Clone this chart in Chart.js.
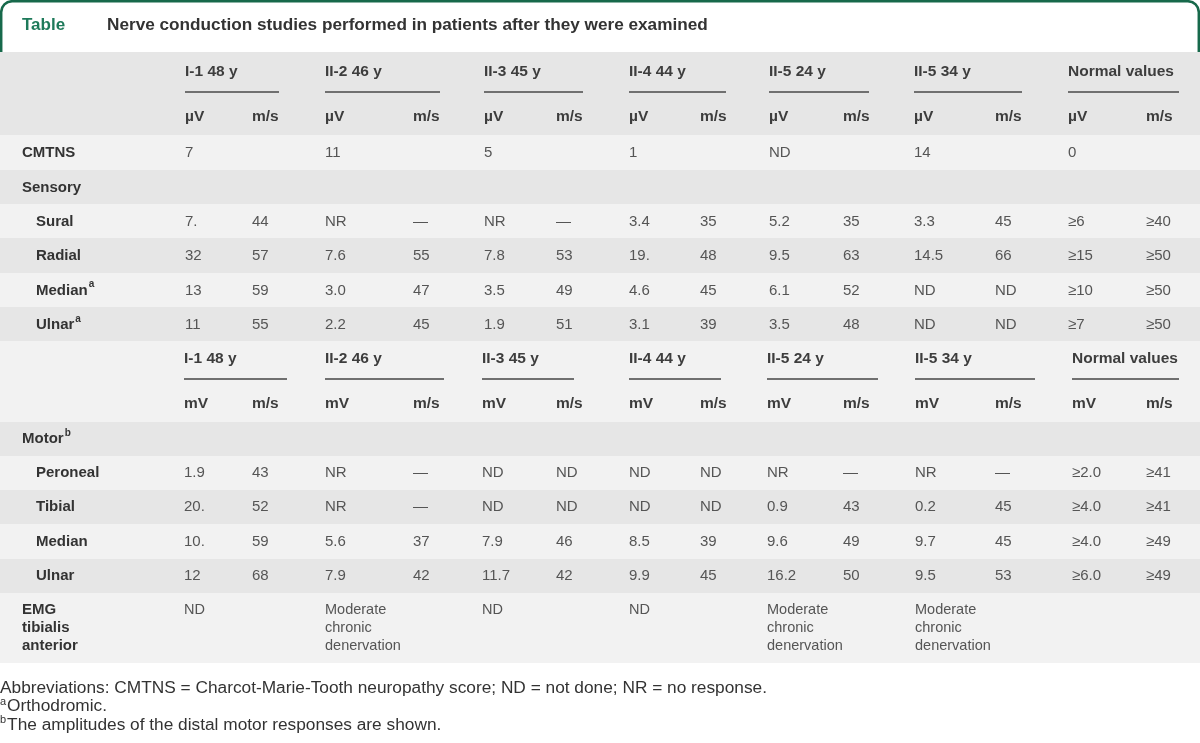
<!DOCTYPE html>
<html>
<head>
<meta charset="utf-8">
<script src="https://cdn.jsdelivr.net/npm/chart.js@4.4.1/dist/chart.umd.min.js"></script>
<style>
  html, body { margin: 0; padding: 0; background: #fff; }
  canvas { display: block; }
</style>
</head>
<body>
<canvas id="nctTable" width="1200" height="743"></canvas>
<script>
// ─── Table content ──────────────────────────────────────────────────────────
const tableLabel = 'Table';
const tableTitle = 'Nerve conduction studies performed in patients after they were examined';

const patients = ['I-1 48 y', 'II-2 46 y', 'II-3 45 y', 'II-4 44 y', 'II-5 24 y', 'II-5 34 y', 'Normal values'];
const sensoryUnits = ['\u00b5V', 'm/s'];
const motorUnits = ['mV', 'm/s'];

const cmtns = ['7', '11', '5', '1', 'ND', '14', '0'];

const sensoryNerves = ['Sural', 'Radial', 'Median', 'Ulnar'];
const sensoryMarks = ['', '', 'a', 'a'];
const sensorySural  = ['7.', '44', 'NR', '\u2014', 'NR', '\u2014', '3.4', '35', '5.2', '35', '3.3', '45', '\u22656', '\u226540'];
const sensoryRadial = ['32', '57', '7.6', '55', '7.8', '53', '19.', '48', '9.5', '63', '14.5', '66', '\u226515', '\u226550'];
const sensoryMedian = ['13', '59', '3.0', '47', '3.5', '49', '4.6', '45', '6.1', '52', 'ND', 'ND', '\u226510', '\u226550'];
const sensoryUlnar  = ['11', '55', '2.2', '45', '1.9', '51', '3.1', '39', '3.5', '48', 'ND', 'ND', '\u22657', '\u226550'];

const motorNerves = ['Peroneal', 'Tibial', 'Median', 'Ulnar'];
const motorPeroneal = ['1.9', '43', 'NR', '\u2014', 'ND', 'ND', 'ND', 'ND', 'NR', '\u2014', 'NR', '\u2014', '\u22652.0', '\u226541'];
const motorTibial   = ['20.', '52', 'NR', '\u2014', 'ND', 'ND', 'ND', 'ND', '0.9', '43', '0.2', '45', '\u22654.0', '\u226541'];
const motorMedian   = ['10.', '59', '5.6', '37', '7.9', '46', '8.5', '39', '9.6', '49', '9.7', '45', '\u22654.0', '\u226549'];
const motorUlnar    = ['12', '68', '7.9', '42', '11.7', '42', '9.9', '45', '16.2', '50', '9.5', '53', '\u22656.0', '\u226549'];

const emgLabel = ['EMG', 'tibialis', 'anterior'];
const emgResults = [['ND'], ['Moderate', 'chronic', 'denervation'], ['ND'], ['ND'],
                    ['Moderate', 'chronic', 'denervation'], ['Moderate', 'chronic', 'denervation'], []];

const footnotes = [
  ['', 'Abbreviations: CMTNS = Charcot-Marie-Tooth neuropathy score; ND = not done; NR = no response.'],
  ['a', 'Orthodromic.'],
  ['b', 'The amplitudes of the distal motor responses are shown.'],
];

// ─── Layout (page units = pixels of the 1200x743 frame) ────────────────────
const colStartTop = [185, 325, 484, 629, 769, 914, 1068];
const colSecondTop = [252, 413, 556, 700, 843, 995, 1146];
const ruleEndTop = [279, 440, 583, 726, 869, 1022, 1179];
const colStartBot = [184, 325, 482, 629, 767, 915, 1072];
const colSecondBot = [252, 413, 556, 700, 843, 995, 1146];
const ruleEndBot = [287, 444, 574, 721, 878, 1035, 1179];

const DARK = '#e6e6e6';
const LIGHT = '#f2f2f2';
const TEAL = '#17694b';

const FONT = '"Liberation Sans", Arial, sans-serif';

// row bands: [top, bottom, fill]
const bands = [
  [52, 135, DARK], [135, 170, LIGHT], [170, 204, DARK], [204, 238, LIGHT],
  [238, 273, DARK], [273, 307, LIGHT], [307, 341, DARK], [341, 422, LIGHT],
  [422, 456, DARK], [456, 490, LIGHT], [490, 524, DARK], [524, 559, LIGHT],
  [559, 593, DARK], [593, 663, LIGHT],
];

// ─── Drawing plugin ─────────────────────────────────────────────────────────
const tablePlugin = {
  id: 'nctTable',
  beforeDatasetsDraw(chart) {
    const { ctx } = chart;
    const sx = chart.scales.x, sy = chart.scales.y;
    const X = v => sx.getPixelForValue(v);
    const Y = v => sy.getPixelForValue(v);

    const text = (str, x, y, font, color, align = 'left') => {
      ctx.font = font;
      ctx.fillStyle = color;
      ctx.textAlign = align;
      ctx.textBaseline = 'middle';
      ctx.fillText(str, X(x), Y(y));
    };
    const textSup = (str, sup, x, y, font, supFont, color) => {
      text(str, x, y, font, color);
      if (!sup) return;
      ctx.font = font;
      const w = ctx.measureText(str).width;
      ctx.font = supFont;
      ctx.fillStyle = color;
      ctx.textBaseline = 'middle';
      ctx.fillText(sup, X(x) + w + 1, Y(y - 6));
    };

    ctx.save();

    // header box with teal frame
    ctx.strokeStyle = TEAL;
    ctx.lineWidth = 2.5;
    ctx.beginPath();
    ctx.moveTo(X(1.2), Y(52));
    ctx.lineTo(X(1.2), Y(12));
    ctx.arcTo(X(1.2), Y(1.2), X(12), Y(1.2), 11);
    ctx.lineTo(X(1188), Y(1.2));
    ctx.arcTo(X(1198.8), Y(1.2), X(1198.8), Y(12), 11);
    ctx.lineTo(X(1198.8), Y(52));
    ctx.stroke();

    text(tableLabel, 22, 25, `bold 17px ${FONT}`, '#1e7a5a');
    text(tableTitle, 107, 25, `bold 17.2px ${FONT}`, '#333333');

    // row bands
    bands.forEach(([t, b, c]) => {
      ctx.fillStyle = c;
      ctx.fillRect(X(0), Y(t), X(1200) - X(0), Y(b) - Y(t));
    });

    const headFont = `bold 15.5px ${FONT}`;
    const labelFont = `bold 15px ${FONT}`;
    const valFont = `15px ${FONT}`;
    const supFont = `bold 10px ${FONT}`;
    const headColor = '#3d3d3d';
    const labelColor = '#333333';
    const valColor = '#555555';

    // column header blocks
    const drawHeader = (yName, yRule, yUnit, starts, seconds, ends, units) => {
      patients.forEach((p, i) => {
        text(p, starts[i], yName, headFont, headColor);
        ctx.strokeStyle = '#707070';
        ctx.lineWidth = 2;
        ctx.beginPath();
        ctx.moveTo(X(starts[i]), Y(yRule));
        ctx.lineTo(X(ends[i]), Y(yRule));
        ctx.stroke();
        text(units[0], starts[i], yUnit, headFont, headColor);
        text(units[1], seconds[i], yUnit, headFont, headColor);
      });
    };
    drawHeader(72, 92, 117, colStartTop, colSecondTop, ruleEndTop, sensoryUnits);
    drawHeader(359, 379, 404, colStartBot, colSecondBot, ruleEndBot, motorUnits);

    // CMTNS
    text('CMTNS', 22, 153, labelFont, labelColor);
    cmtns.forEach((v, i) => text(v, colStartTop[i], 153, valFont, valColor));

    // sensory block
    text('Sensory', 22, 188, labelFont, labelColor);
    const sensoryRows = [sensorySural, sensoryRadial, sensoryMedian, sensoryUlnar];
    sensoryRows.forEach((row, r) => {
      const y = 222 + r * 34.3;
      textSup(sensoryNerves[r], sensoryMarks[r], 36, y, labelFont, supFont, labelColor);
      row.forEach((v, k) => {
        const g = Math.floor(k / 2);
        const x = k % 2 === 0 ? colStartTop[g] : colSecondTop[g];
        text(v, x, y, valFont, valColor);
      });
    });

    // motor block
    textSup('Motor', 'b', 22, 439, labelFont, supFont, labelColor);
    const motorRows = [motorPeroneal, motorTibial, motorMedian, motorUlnar];
    motorRows.forEach((row, r) => {
      const y = 473 + r * 34.3;
      text(motorNerves[r], 36, y, labelFont, labelColor);
      row.forEach((v, k) => {
        const g = Math.floor(k / 2);
        const x = k % 2 === 0 ? colStartBot[g] : colSecondBot[g];
        text(v, x, y, valFont, valColor);
      });
    });

    // EMG
    emgLabel.forEach((l, j) => text(l, 22, 610 + j * 18, labelFont, labelColor));
    emgResults.forEach((lines, i) => {
      lines.forEach((l, j) => text(l, colStartBot[i], 610 + j * 18, `14.5px ${FONT}`, valColor));
    });

    // footnotes
    footnotes.forEach(([mark, note], j) => {
      const y = 688 + j * 18.5;
      let x = 0;
      if (mark) {
        ctx.font = `11px ${FONT}`;
        ctx.fillStyle = '#333333';
        ctx.textAlign = 'left';
        ctx.textBaseline = 'middle';
        ctx.fillText(mark, X(x), Y(y - 5));
        x += ctx.measureText(mark).width + 1;
      }
      text(note, x, y, `17.3px ${FONT}`, '#333333');
    });

    ctx.restore();
  }
};

// ─── Chart ──────────────────────────────────────────────────────────────────
new Chart(document.getElementById('nctTable').getContext('2d'), {
  type: 'scatter',
  data: { datasets: [{ data: [], pointRadius: 0 }] },
  options: {
    responsive: false,
    animation: false,
    devicePixelRatio: 1,
    layout: { padding: 0 },
    plugins: { legend: { display: false }, tooltip: { enabled: false } },
    scales: {
      x: { type: 'linear', min: 0, max: 1200, display: false },
      y: { type: 'linear', min: 0, max: 743, reverse: true, display: false },
    }
  },
  plugins: [tablePlugin]
});
</script>
</body>
</html>
